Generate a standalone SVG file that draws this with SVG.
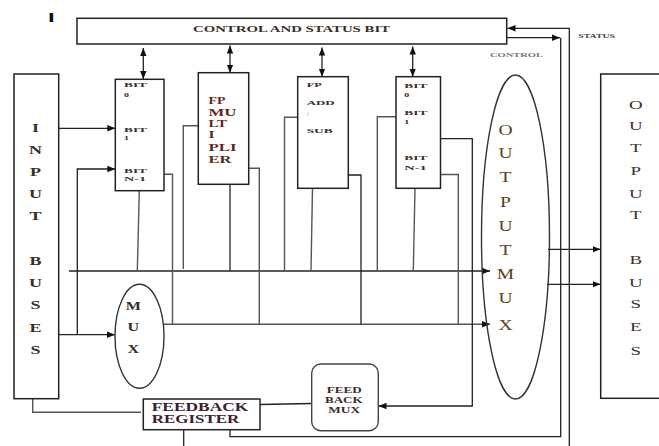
<svg xmlns="http://www.w3.org/2000/svg" width="659" height="446" viewBox="0 0 659 446">
<defs>
<marker id="ah" markerUnits="userSpaceOnUse" markerWidth="9" markerHeight="8" refX="8" refY="4" orient="auto-start-reverse">
<path d="M0,0.8 L8,4 L0,7.2 Z" fill="#111"/>
</marker>
</defs>
<style>
.box{fill:#fff;stroke:#222;stroke-width:1.5}
.ln{fill:none;stroke:#222;stroke-width:1.3}
.gl{fill:none;stroke:#555;stroke-width:1.4}
.b{font-family:"Liberation Serif",serif;font-weight:bold;fill:#3a2c28}
.r{font-family:"Liberation Serif",serif;fill:#3a3030}
.big{font-size:12px;text-anchor:middle}
.sm{font-size:6.5px}
</style>
<rect width="659" height="446" fill="#fff"/>

<text x="24" y="22.3" transform="scale(2,1)" style="font-family:'Liberation Sans',sans-serif;font-weight:bold;font-size:12px;fill:#111">I</text>

<g id="connectors">
<!-- double arrows -->
<line class="ln" x1="143.3" y1="48" x2="143.3" y2="79" marker-start="url(#ah)" marker-end="url(#ah)"/>
<line class="ln" x1="230" y1="45.5" x2="230" y2="72.7" marker-start="url(#ah)" marker-end="url(#ah)"/>
<line class="ln" x1="322" y1="47.5" x2="322" y2="76.7" marker-start="url(#ah)" marker-end="url(#ah)"/>
<line class="ln" x1="412.7" y1="46.5" x2="412.7" y2="76.7" marker-start="url(#ah)" marker-end="url(#ah)"/>
<!-- input to box1 -->
<line class="ln" x1="58.7" y1="128.3" x2="115.3" y2="128.3" marker-end="url(#ah)"/>
<path class="ln" d="M77.3,334.7 V169 H115.3" marker-end="url(#ah)"/>
<line class="ln" x1="58.7" y1="334.7" x2="115" y2="334.7" marker-end="url(#ah)"/>
<!-- bus line -->
<line class="ln" x1="69" y1="271" x2="490" y2="271" marker-end="url(#ah)"/>
<!-- mux output line -->
<line class="gl" x1="163.5" y1="324.3" x2="490" y2="324.3" marker-end="url(#ah)"/>
<!-- verticals to bus -->
<line class="gl" x1="139.3" y1="190.7" x2="137.3" y2="271"/>
<path class="gl" d="M164,174.3 H172.5 V324.3"/>
<path class="gl" d="M198.3,125.7 H183.3 V269"/>
<line class="ln" x1="230" y1="184.3" x2="230" y2="271"/>
<path class="gl" d="M248.7,168.3 H259.3 V324.3"/>
<path class="gl" d="M297.7,117.3 H284.5 V271"/>
<line class="gl" x1="312.5" y1="188.3" x2="311" y2="271"/>
<path class="ln" d="M348.3,175 H361 V324.3"/>
<path class="gl" d="M396,116.7 H377.3 V271"/>
<line class="gl" x1="415" y1="188.3" x2="413.3" y2="271"/>
<path class="gl" d="M440.5,174.5 H458.3 V324.3"/>
<path class="ln" d="M440.5,138.7 H472.3 V406 H378.5" marker-end="url(#ah)"/>
<!-- output mux to output buses -->
<line class="ln" x1="548" y1="249.3" x2="600.5" y2="249.3" marker-end="url(#ah)"/>
<line class="ln" x1="547" y1="284.3" x2="600.5" y2="284.3" marker-end="url(#ah)"/>
<!-- feedback -->
<path class="gl" d="M32.7,398.7 V412.3 H141"/>
<line class="ln" x1="260" y1="404.5" x2="311.7" y2="403.5"/>
<line class="ln" x1="183.7" y1="429.7" x2="183.7" y2="446"/>
<!-- control / status -->
<line class="ln" x1="506.7" y1="37.7" x2="560" y2="37.7" marker-end="url(#ah)"/>
<path class="ln" d="M560.7,37.7 V436.7 H230 V429.7"/>
<path class="ln" d="M569.3,446 V28.3 H507.5" marker-end="url(#ah)"/>
</g>

<g id="control-status">
<rect class="box" x="77" y="18.3" width="429.7" height="25.7"/>
<text class="b" x="193" y="31.5" font-size="9" textLength="197" lengthAdjust="spacingAndGlyphs">CONTROL AND STATUS BIT</text>
</g>
<text class="b" x="490" y="56.7" font-size="6.5" textLength="53" lengthAdjust="spacingAndGlyphs" style="fill:#777">CONTROL</text>
<text class="b" x="578.3" y="38.3" font-size="6.5" textLength="36.7" lengthAdjust="spacingAndGlyphs" style="fill:#444">STATUS</text>

<g id="input-buses">
<rect class="box" x="14" y="74" width="44.7" height="324.7"/>
<g transform="translate(35.5,0) scale(1.5,1)" class="b big">
<text x="0" y="131.7">I</text><text x="0" y="154">N</text><text x="0" y="176">P</text><text x="0" y="198.3">U</text><text x="0" y="220">T</text>
<text x="0" y="265">B</text><text x="0" y="287.5">U</text><text x="0" y="309.5">S</text><text x="0" y="332">E</text><text x="0" y="354.5">S</text>
</g>
</g>

<g id="bit-register-1">
<rect class="box" x="115.3" y="79.3" width="48.7" height="111.4"/>
<g class="b sm">
<text x="124" y="87" textLength="23" lengthAdjust="spacingAndGlyphs">BIT</text>
<text x="124" y="96.5" textLength="5" lengthAdjust="spacingAndGlyphs">0</text>
<text x="124" y="131.5" textLength="23" lengthAdjust="spacingAndGlyphs">BIT</text>
<text x="124" y="140" textLength="5" lengthAdjust="spacingAndGlyphs">1</text>
<text x="124" y="172.5" textLength="23" lengthAdjust="spacingAndGlyphs">BIT</text>
<text x="124" y="181" textLength="22" lengthAdjust="spacingAndGlyphs">N-1</text>
</g>
</g>

<g id="fp-multiplier">
<rect class="box" x="198.3" y="72.7" width="50.4" height="111.6"/>
<g class="b" font-size="11" style="fill:#5a2a20">
<text x="208.5" y="104" textLength="17" lengthAdjust="spacingAndGlyphs">FP</text>
<text x="208.5" y="115.5" textLength="28" lengthAdjust="spacingAndGlyphs">MU</text>
<text x="208.5" y="127" textLength="18.5" lengthAdjust="spacingAndGlyphs">LT</text>
<text x="208.5" y="138" textLength="6" lengthAdjust="spacingAndGlyphs">I</text>
<text x="208.5" y="150.5" textLength="28" lengthAdjust="spacingAndGlyphs">PLI</text>
<text x="208.5" y="162.5" textLength="23" lengthAdjust="spacingAndGlyphs">ER</text>
</g>
</g>

<g id="fp-add-sub">
<rect class="box" x="297.7" y="76.7" width="50.6" height="111.6"/>
<g class="b sm">
<text x="306.7" y="86.5" textLength="15" lengthAdjust="spacingAndGlyphs">FP</text>
<text x="306.7" y="105" textLength="28" lengthAdjust="spacingAndGlyphs">ADD</text>
<text x="307" y="115.5" style="fill:#9a8a70">/</text>
<text x="306.7" y="132.5" textLength="26" lengthAdjust="spacingAndGlyphs">SUB</text>
</g>
</g>

<g id="bit-register-2">
<rect class="box" x="396" y="76.7" width="44.5" height="111.6"/>
<g class="b sm">
<text x="404.3" y="87.5" textLength="23" lengthAdjust="spacingAndGlyphs">BIT</text>
<text x="404.3" y="96.5" textLength="5" lengthAdjust="spacingAndGlyphs">0</text>
<text x="404.3" y="115" textLength="23" lengthAdjust="spacingAndGlyphs">BIT</text>
<text x="404.3" y="124" textLength="5" lengthAdjust="spacingAndGlyphs">1</text>
<text x="404.3" y="160" textLength="23" lengthAdjust="spacingAndGlyphs">BIT</text>
<text x="404.3" y="170" textLength="22.5" lengthAdjust="spacingAndGlyphs">N-1</text>
</g>
</g>

<g id="mux">
<ellipse cx="139.5" cy="336.3" rx="24.5" ry="52" fill="#fff" stroke="#333" stroke-width="1.4"/>
<g transform="translate(133.3,0) scale(1.4,1)" class="b" font-size="11.5" text-anchor="middle">
<text x="0" y="310">M</text><text x="0" y="330.7">U</text><text x="0" y="353.3">X</text>
</g>
</g>

<g id="output-mux">
<ellipse cx="515.5" cy="237" rx="34" ry="162" fill="none" stroke="#333" stroke-width="1.4"/>
<g transform="translate(505.5,0) scale(1.35,1)" class="r" font-size="14.5" text-anchor="middle" style="fill:#5a4020">
<text x="0" y="135">O</text><text x="0" y="158.3">U</text><text x="0" y="182.3">T</text><text x="0" y="207">P</text><text x="0" y="231.5">U</text><text x="0" y="255">T</text><text x="0" y="279.3">M</text><text x="0" y="303">U</text><text x="0" y="330">X</text>
</g>
</g>

<g id="output-buses">
<rect class="box" x="600.7" y="74" width="70" height="324.3"/>
<g transform="translate(635.7,0) scale(1.4,1)" class="r" font-size="13.5" text-anchor="middle">
<text x="0" y="109.3">O</text><text x="0" y="130">U</text><text x="0" y="152">T</text><text x="0" y="175">P</text><text x="0" y="198">U</text><text x="0" y="219">T</text>
<text x="0" y="264.5">B</text><text x="0" y="286.7">U</text><text x="0" y="308.5">S</text><text x="0" y="331">E</text><text x="0" y="355">S</text>
</g>
</g>

<g id="feedback-register">
<rect class="box" x="143.3" y="399" width="116.7" height="30.7"/>
<text class="b" x="151.7" y="410.7" font-size="12.5" textLength="96.7" lengthAdjust="spacingAndGlyphs" style="fill:#3a2030">FEEDBACK</text>
<text class="b" x="151.7" y="423.3" font-size="12.5" textLength="87.7" lengthAdjust="spacingAndGlyphs" style="fill:#3a2030">REGISTER</text>
</g>

<g id="feedback-mux">
<rect x="311.7" y="364" width="66.6" height="66.7" rx="9" fill="#fff" stroke="#444" stroke-width="1.4"/>
<g class="b" font-size="8">
<text x="326.7" y="392.7" textLength="35" lengthAdjust="spacingAndGlyphs">FEED</text>
<text x="325" y="403.3" textLength="37.7" lengthAdjust="spacingAndGlyphs">BACK</text>
<text x="328.3" y="412.7" textLength="31.7" lengthAdjust="spacingAndGlyphs">MUX</text>
</g>
</g>
</svg>
